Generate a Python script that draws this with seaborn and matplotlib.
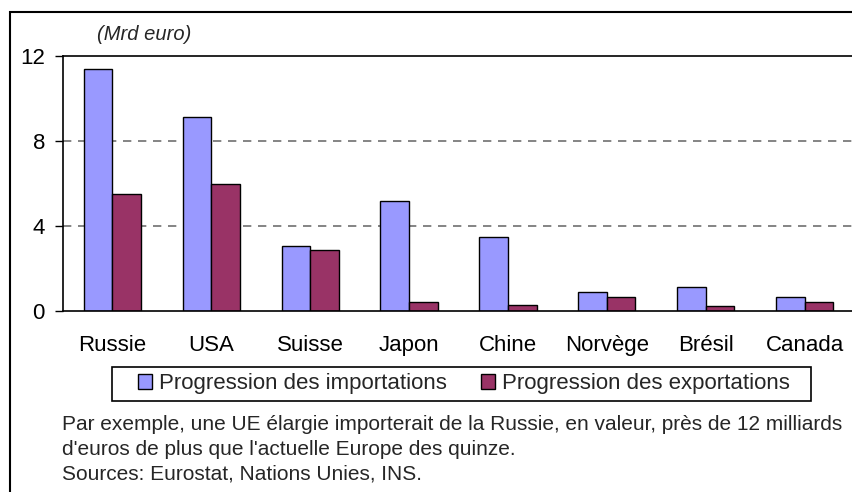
import pandas as pd
import matplotlib.pyplot as plt
import seaborn as sns
from matplotlib.patches import Rectangle, Patch

countries = ["Russie", "USA", "Suisse", "Japon", "Chine", "Norvège", "Brésil", "Canada"]
imports = [11.4, 9.13, 3.08, 5.2, 3.47, 0.9, 1.12, 0.68]
exports = [5.52, 5.98, 2.87, 0.44, 0.29, 0.68, 0.23, 0.44]
series = ["Progression des importations", "Progression des exportations"]
yticks = [0, 4, 8, 12]

df = pd.DataFrame({
    "pays": countries * 2,
    "valeur": imports + exports,
    "serie": [series[0]] * len(countries) + [series[1]] * len(countries),
})

sns.set_style("white")
plt.rcParams["font.family"] = ["Liberation Sans", "DejaVu Sans"]

W, H = 853, 492
fig = plt.figure(figsize=(W / 100, H / 100), dpi=100)
ax = fig.add_axes([63 / W, 1 - 311 / H, 791 / W, 255 / H])

colors = {series[0]: "#9999FF", series[1]: "#993366"}
sns.barplot(data=df, x="pays", y="valeur", hue="serie", hue_order=series,
            palette=colors, saturation=1, width=0.58, edgecolor="black",
            linewidth=1, ax=ax, legend=False)

ax.set_ylim(0, 12)
ax.set_xlim(-0.5, len(countries) - 0.5)
ax.set_yticks(yticks)
ax.set_yticklabels([str(t) for t in yticks], fontsize=16)
ax.tick_params(axis="x", labelsize=16, length=0, pad=17, colors="black")
ax.tick_params(axis="y", length=6, width=1, direction="out", left=True, pad=7, colors="black")
ax.set_xlabel("")
ax.set_ylabel("")
for y in [4, 8]:
    ax.axhline(y, color="#707070", linestyle=(0, (5, 4)), linewidth=1.2, zorder=0)
for side in ["left", "top", "bottom"]:
    ax.spines[side].set_visible(True)
    ax.spines[side].set_color("black")
    ax.spines[side].set_linewidth(1.2)
ax.spines["right"].set_visible(False)

fig.text(97 / W, 1 - 35 / H, "(Mrd euro)", style="italic", fontsize=14.5,
         va="center", ha="left")

# legend box drawn by hand so the padding matches
handles = [Patch(facecolor=colors[s], edgecolor="black", label=s) for s in series]
fig.legend(handles=handles, loc="center", bbox_to_anchor=(464 / W, 1 - 384 / H),
           ncol=2, fontsize=16, frameon=False,
           handlelength=0.63, handleheight=0.63, handletextpad=0.3,
           columnspacing=1.55, borderpad=0.0)
fig.patches.append(Rectangle((112 / W, 1 - 401 / H), 699 / W, 34 / H,
                             transform=fig.transFigure, fill=False,
                             edgecolor="black", linewidth=1.2))

notes = [
    "Par exemple, une UE élargie importerait de la Russie, en valeur, près de 12 milliards",
    "d'euros de plus que l'actuelle Europe des quinze.",
    "Sources: Eurostat, Nations Unies, INS.",
]
for i, line in enumerate(notes):
    fig.text(62 / W, 1 - (430 + 25 * i) / H, line, fontsize=15, va="baseline", ha="left")

fig.patches.append(Rectangle((10 / W, -0.1), 1.2, 1 - 12 / H + 0.1, transform=fig.transFigure,
                             fill=False, edgecolor="black", linewidth=1.5))

fig.savefig("out.png", dpi=100)
